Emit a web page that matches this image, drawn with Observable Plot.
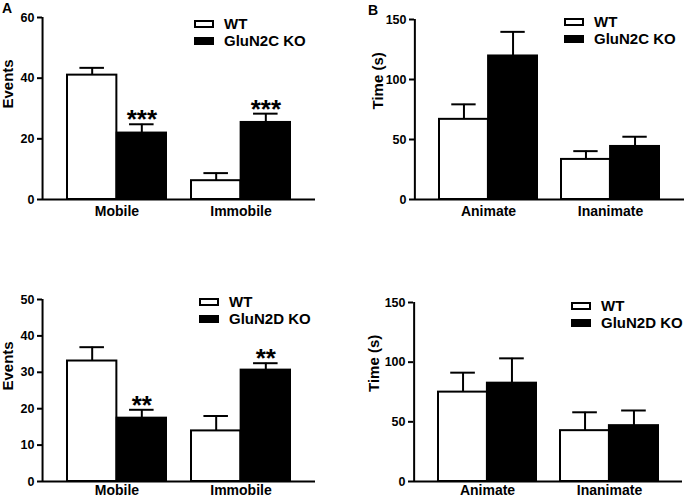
<!DOCTYPE html>
<html>
<head>
<meta charset="utf-8">
<script src="https://cdn.jsdelivr.net/npm/d3@7"></script>
<script src="https://cdn.jsdelivr.net/npm/@observablehq/plot@0.6"></script>
<style>
  html, body { margin: 0; padding: 0; background: #fff; }
  #wrap { position: relative; width: 685px; height: 499px; background: #fff; overflow: hidden;
    font-family: "Liberation Sans", Arial, Helvetica, sans-serif; font-weight: bold; color: #000; }
  .panel { position: absolute; }
  .panel svg { overflow: visible; }
  .panel svg g[aria-label^="y-axis"] line,
  .panel svg g[aria-label^="y-axis"] path { stroke: #000; stroke-width: 2px; stroke-opacity: 1; }
  .panel svg g[aria-label^="y-axis"] text { font-size: 12.5px; font-weight: bold; fill: #000; }
  .panel svg g[aria-label^="x-axis"] text { font-size: 14px; font-weight: bold; fill: #000; }
  .lbox { position: absolute; box-sizing: border-box; border: 2px solid #000; }
  .ltext { position: absolute; font-size: 15px; line-height: 16px; transform: translateY(-50%); white-space: nowrap; }
  .letter { position: absolute; font-size: 14px; line-height: 14px; }
</style>
</head>
<body>
<div id="wrap"></div>
<script>
// ---------- data ----------
const groups = ["WT", "KO"];

// Panel A: GluN2C, events
const catsA = ["Mobile", "Immobile"];
const wtA = [41.0, 6.2];
const wtSemA = [2.4, 2.5];
const koA = [21.9, 25.4];
const koSemA = [2.9, 2.9];
const sigA = ["***", "***"];
const ticksA = [0, 20, 40, 60];

// Panel B: GluN2C, time
const catsB = ["Animate", "Inanimate"];
const wtB = [66.8, 33.4];
const wtSemB = [12.5, 6.9];
const koB = [119.6, 44.2];
const koSemB = [20.1, 8.1];
const sigB = ["", ""];
const ticksB = [0, 50, 100, 150];

// Panel C: GluN2D, events
const catsC = ["Mobile", "Immobile"];
const wtC = [33.1, 13.9];
const wtSemC = [3.8, 4.1];
const koC = [17.4, 30.6];
const koSemC = [2.3, 1.9];
const sigC = ["**", "**"];
const ticksC = [0, 10, 20, 30, 40, 50];

// Panel D: GluN2D, time
const catsD = ["Animate", "Inanimate"];
const wtD = [74.9, 42.6];
const wtSemD = [16.3, 15.4];
const koD = [82.4, 46.8];
const koSemD = [20.8, 12.7];
const sigD = ["", ""];
const ticksD = [0, 50, 100, 150];

const koNames = ["GluN2C KO", "GluN2C KO", "GluN2D KO", "GluN2D KO"];

// ---------- drawing ----------
const wrap = document.getElementById("wrap");

function panel(cfg) {
  const rows = [];
  cfg.cats.forEach((c, i) => {
    rows.push({cat: c, group: "WT", mean: cfg.wt[i], sem: cfg.wtSem[i], sig: ""});
    rows.push({cat: c, group: "KO", mean: cfg.ko[i], sem: cfg.koSem[i], sig: cfg.sig[i]});
  });
  const wt = rows.filter(d => d.group === "WT");
  const ko = rows.filter(d => d.group === "KO");
  const top = d => d.mean + d.sem;
  const inner = cfg.width - cfg.ml - cfg.mr;
  const step = inner / 2.2;     // paddingInner 0.2, paddingOuter 0.2
  const bw = 0.8 * step;        // band width

  const chart = Plot.plot({
    width: cfg.width,
    height: cfg.height,
    marginLeft: cfg.ml,
    marginRight: cfg.mr,
    marginTop: cfg.mt,
    marginBottom: cfg.mb,
    style: {background: "transparent", fontFamily: "'Liberation Sans', Arial, sans-serif", fontWeight: "bold", fontSize: "12px", color: "#000", overflow: "visible"},
    x: {domain: cfg.cats, paddingInner: 0.2, paddingOuter: 0.2, align: 0.5, tickSize: 0, tickPadding: cfg.xpad, label: null},
    y: {domain: [0, cfg.ticks[cfg.ticks.length - 1]], ticks: cfg.ticks, tickSize: 5, tickPadding: 3, label: null},
    marks: [
      Plot.ruleX(wt, {x: "cat", y1: "mean", y2: top, dx: -bw / 4, stroke: "#000", strokeWidth: 2}),
      Plot.ruleX(ko, {x: "cat", y1: "mean", y2: top, dx: bw / 4, stroke: "#000", strokeWidth: 2}),
      Plot.tickY(wt, {x: "cat", y: top, insetLeft: bw / 8, insetRight: 5 * bw / 8, stroke: "#000", strokeWidth: 2}),
      Plot.tickY(ko, {x: "cat", y: top, insetLeft: 5 * bw / 8, insetRight: bw / 8, stroke: "#000", strokeWidth: 2}),
      Plot.barY(wt, {x: "cat", y: "mean", insetLeft: 0, insetRight: bw / 2, fill: "#fff", stroke: "#000", strokeWidth: 2}),
      Plot.barY(ko, {x: "cat", y: "mean", insetLeft: bw / 2, insetRight: 0, fill: "#000", stroke: "#000", strokeWidth: 2}),
      Plot.text(ko.filter(d => d.sig), {x: "cat", y: top, text: "sig", dx: bw / 4, dy: 4, lineAnchor: "bottom", fontSize: 26, fontWeight: "bold", fill: "#000"}),
      // axis lines: x at y = 0, y along the frame's left edge
      Plot.ruleY([0], {stroke: "#000", strokeWidth: 2}),
      Plot.ruleX([cfg.cats[0]], {x: d => d, dx: -0.6 * step, stroke: "#000", strokeWidth: 2}),
      Plot.text([cfg.ylabel], {text: d => d, frameAnchor: "left", dx: cfg.ylabelDx, rotate: -90, fontSize: 15, fontWeight: "bold", fill: "#000"})
    ]
  });
  const div = document.createElement("div");
  div.className = "panel";
  div.style.left = cfg.left + "px";
  div.style.top = cfg.top + "px";
  div.appendChild(chart);
  wrap.appendChild(div);

  // legend
  const lg = cfg.legend;
  const mk = (cls, css, txt) => {
    const e = document.createElement("div");
    e.className = cls;
    Object.assign(e.style, css);
    if (txt) e.textContent = txt;
    wrap.appendChild(e);
  };
  mk("lbox", {left: lg.x + "px", top: lg.y + "px", width: "20px", height: "8px", background: "#fff"});
  mk("lbox", {left: lg.x + "px", top: (lg.y + 17) + "px", width: "20px", height: "8px", background: "#000"});
  mk("ltext", {left: (lg.x + 30) + "px", top: (lg.y + 4) + "px"}, groups[0]);
  mk("ltext", {left: (lg.x + 30) + "px", top: (lg.y + 21) + "px"}, cfg.koName);
  if (cfg.letter) mk("letter", {left: cfg.letter[1] + "px", top: cfg.letter[2] + "px"}, cfg.letter[0]);
}

panel({left: 0, top: 0, width: 340, height: 240, ml: 42, mr: 25, mt: 17, mb: 41, xpad: 7,
  cats: catsA, wt: wtA, wtSem: wtSemA, ko: koA, koSem: koSemA, sig: sigA, ticks: ticksA,
  ylabel: "Events", ylabelDx: -34, koName: koNames[0], legend: {x: 194, y: 20}, letter: ["A", 2, 1]});
panel({left: 340, top: 0, width: 345, height: 240, ml: 74, mr: 1, mt: 19, mb: 41, xpad: 7,
  cats: catsB, wt: wtB, wtSem: wtSemB, ko: koB, koSem: koSemB, sig: sigB, ticks: ticksB,
  ylabel: "Time (s)", ylabelDx: -36, koName: koNames[1], legend: {x: 564, y: 18}, letter: ["B", 368, 3]});
panel({left: 0, top: 250, width: 340, height: 249, ml: 42, mr: 25, mt: 49, mb: 18, xpad: 4,
  cats: catsC, wt: wtC, wtSem: wtSemC, ko: koC, koSem: koSemC, sig: sigC, ticks: ticksC,
  ylabel: "Events", ylabelDx: -34, koName: koNames[2], legend: {x: 199, y: 298}, letter: null});
panel({left: 340, top: 250, width: 345, height: 249, ml: 73, mr: 3, mt: 52, mb: 18, xpad: 4,
  cats: catsD, wt: wtD, wtSem: wtSemD, ko: koD, koSem: koSemD, sig: sigD, ticks: ticksD,
  ylabel: "Time (s)", ylabelDx: -39, koName: koNames[3], legend: {x: 571, y: 302}, letter: null});
</script>
</body>
</html>
